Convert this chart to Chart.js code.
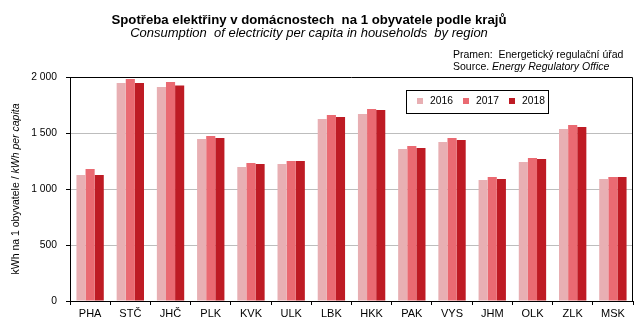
<!DOCTYPE html>
<html>
<head>
<meta charset="utf-8">
<script src="https://cdn.jsdelivr.net/npm/chart.js@4/dist/chart.umd.min.js"></script>
<style>
html,body{margin:0;padding:0;background:#fff;}
canvas{display:block;}
</style>
</head>
<body>
<canvas id="c" width="643" height="328"></canvas>
<script>
const categories = ['PHA','STČ','JHČ','PLK','KVK','ULK','LBK','HKK','PAK','VYS','JHM','OLK','ZLK','MSK'];
const seriesLabels = ['2016','2017','2018'];
const values2016 = [1125,1946,1911,1446,1196,1223,1625,1670,1357,1420,1080,1241,1536,1089];
const values2017 = [1179,1982,1955,1473,1232,1250,1661,1714,1384,1455,1107,1277,1571,1107];
const values2018 = [1125,1946,1923,1455,1223,1250,1643,1705,1366,1438,1089,1268,1554,1107];
const yTicks = [0,500,1000,1500,2000];
const titleText = 'Spotřeba elektřiny v domácnostech  na 1 obyvatele podle krajů';
const subtitleText = 'Consumption  of electricity per capita in households  by region';
const sourceCz = 'Pramen:  Energetický regulační úřad';
const sourceEnPrefix = 'Source. ';
const sourceEn = 'Energy Regulatory Office';
const yTitleNormal = 'kWh na 1 obyvatele / ';
const yTitleItalic = 'kWh per capita';

const colors = ['#E8AFB3','#EA6A72','#BE1B24'];
const FONT = '"Liberation Sans", Arial, sans-serif';

function fmt(v){ return String(v).replace(/\B(?=(\d{3})+(?!\d))/g,' '); }

const deco = {
  id:'deco',
  afterDraw(chart){
    const ctx = chart.ctx, a = chart.chartArea;
    ctx.save();
    // frame
    ctx.strokeStyle = '#000'; ctx.lineWidth = 1;
    ctx.beginPath();
    ctx.moveTo(Math.round(a.left)+0.5, Math.round(a.top)+0.5);
    ctx.lineTo(Math.round(a.right)-0.5, Math.round(a.top)+0.5);
    ctx.lineTo(Math.round(a.right)-0.5, Math.round(a.bottom));
    ctx.stroke();
    // titles
    ctx.fillStyle = '#000';
    ctx.textAlign = 'center'; ctx.textBaseline = 'middle';
    ctx.font = 'bold 13.2px ' + FONT;
    ctx.fillText(titleText, 309, 20);
    ctx.font = 'italic 13px ' + FONT;
    ctx.fillText(subtitleText, 309, 33);
    // source
    ctx.textAlign = 'left';
    ctx.font = '10.5px ' + FONT;
    ctx.fillText(sourceCz, 453, 55);
    ctx.fillText(sourceEnPrefix, 453, 67);
    const w = ctx.measureText(sourceEnPrefix).width;
    ctx.font = 'italic 10.5px ' + FONT;
    ctx.fillText(sourceEn, 453 + w, 67);
    // y title
    ctx.save();
    ctx.translate(16, (a.top + a.bottom)/2);
    ctx.rotate(-Math.PI/2);
    ctx.font = '10.5px ' + FONT;
    const w1 = ctx.measureText(yTitleNormal).width;
    ctx.font = 'italic 10.5px ' + FONT;
    const w2 = ctx.measureText(yTitleItalic).width;
    let x0 = -(w1 + w2)/2;
    ctx.textAlign = 'left';
    ctx.font = '10.5px ' + FONT;
    ctx.fillText(yTitleNormal, x0, 0);
    ctx.font = 'italic 10.5px ' + FONT;
    ctx.fillText(yTitleItalic, x0 + w1, 0);
    ctx.restore();
    // legend
    const lx = 406, ly = 90, lw = 142, lh = 23;
    ctx.strokeStyle = '#000'; ctx.lineWidth = 1;
    ctx.strokeRect(lx + 0.5, ly + 0.5, lw, lh);
    ctx.font = '10.3px ' + FONT;
    ctx.textBaseline = 'middle';
    chart.data.datasets.forEach((ds, i) => {
      const x = 417 + i * 46;
      ctx.fillStyle = ds.backgroundColor;
      ctx.fillRect(x, ly + 8, 6, 6);
      ctx.fillStyle = '#000';
      ctx.fillText(ds.label, x + 13, ly + 11.5);
    });
    ctx.restore();
  }
};

new Chart(document.getElementById('c'), {
  type: 'bar',
  data: {
    labels: categories,
    datasets: [
      {label: seriesLabels[0], data: values2016, backgroundColor: colors[0]},
      {label: seriesLabels[1], data: values2017, backgroundColor: colors[1]},
      {label: seriesLabels[2], data: values2018, backgroundColor: colors[2]}
    ]
  },
  options: {
    responsive: false,
    animation: false,
    devicePixelRatio: 1,
    layout: {padding: {left: 0, top: 77, right: 10, bottom: 0}},
    datasets: {bar: {categoryPercentage: 0.68, barPercentage: 1.0}},
    plugins: {legend: {display: false}, title: {display: false}, tooltip: {enabled: false}},
    scales: {
      x: {
        afterFit(s){ s.height = 27; },
        grid: {offset: true, drawOnChartArea: false, drawTicks: true, tickLength: 4, tickColor: '#000'},
        border: {display: true, color: '#000', width: 1},
        ticks: {color: '#000', font: {family: FONT, size: 11}, padding: 2, maxRotation: 0, autoSkip: false}
      },
      y: {
        min: 0, max: 2000,
        afterFit(s){ s.width = 70; },
        afterBuildTicks(s){ s.ticks = yTicks.map(v => ({value: v})); },
        grid: {
          color: c => (c.tick && c.tick.value > 0 && c.tick.value < 2000) ? '#BDBDBD' : 'rgba(0,0,0,0)',
          tickColor: '#000', tickLength: 4, drawTicks: true
        },
        border: {display: true, color: '#000', width: 1},
        ticks: {color: '#000', font: {family: FONT, size: 10.3}, padding: 9, callback: v => fmt(v)}
      }
    }
  },
  plugins: [deco]
});
</script>
</body>
</html>
